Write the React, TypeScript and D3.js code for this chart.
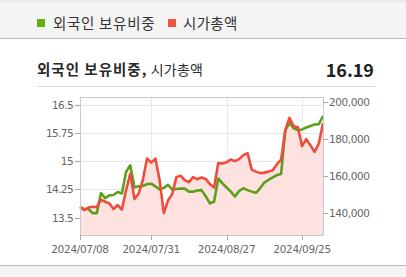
import React from "react";
import * as d3 from "d3";

const dates = [
  "2024/07/08","2024/07/09","2024/07/10","2024/07/11","2024/07/12","2024/07/15","2024/07/16","2024/07/17","2024/07/18","2024/07/19",
  "2024/07/22","2024/07/23","2024/07/24","2024/07/25","2024/07/26","2024/07/29","2024/07/30","2024/07/31",
  "2024/08/01","2024/08/02","2024/08/05","2024/08/06","2024/08/07","2024/08/08","2024/08/09","2024/08/12","2024/08/13","2024/08/14",
  "2024/08/16","2024/08/19","2024/08/20","2024/08/21","2024/08/22","2024/08/23","2024/08/26","2024/08/27","2024/08/28","2024/08/29","2024/08/30",
  "2024/09/02","2024/09/03","2024/09/04","2024/09/05","2024/09/06","2024/09/09","2024/09/10","2024/09/11","2024/09/12","2024/09/13",
  "2024/09/19","2024/09/20","2024/09/23","2024/09/24","2024/09/25","2024/09/26","2024/09/27","2024/09/30",
  "2024/10/02","2024/10/04",
];

const foreignRatio = [
  13.78,13.73,13.73,13.62,13.62,14.15,14.02,14.09,14.10,14.18,
  14.14,14.71,14.89,14.30,14.33,14.34,14.39,14.40,
  14.33,14.25,14.29,14.37,14.25,14.26,14.27,14.27,14.19,14.19,
  14.22,14.23,14.07,13.88,13.92,14.54,14.41,14.30,14.19,14.06,14.21,
  14.28,14.23,14.19,14.16,14.28,14.43,14.50,14.57,14.63,14.66,
  15.82,16.01,15.87,15.82,15.84,15.89,15.93,15.97,
  15.98,16.19,
];

const marketCap = [
  143550,141780,143120,143550,143390,147420,146240,145380,142320,144470,
  142050,152530,161400,147690,150650,157910,169570,167310,
  169460,157910,140170,146890,150380,159520,160330,157910,156830,159520,
  158440,159360,158550,155760,153870,167050,166880,167580,169030,168120,169200,
  171350,172420,163550,162480,161670,161940,162480,163280,166510,168930,
  184790,191510,186940,186400,176180,179950,176720,173120,
  177640,188550,
];

const leftTicks = [13.5, 14.25, 15, 15.75, 16.5];
const rightTicks = [140000, 160000, 180000, 200000];
const xTickDates = ["2024/07/08", "2024/07/31", "2024/08/27", "2024/09/25"];
const leftDomain = [13.04, 16.7];
const rightDomain = [128340, 202690];

const seriesNames = ["외국인 보유비중", "시가총액"];
const titleBold = "외국인 보유비중,";
const titleRest = " 시가총액";
const latestValue = "16.19";

const W = 406, H = 277;
const plot = { left: 80, right: 323, top: 97, bottom: 235 };
const GREEN = "#5c9f1c";
const RED = "#ee4d3d";
const FONT = "'Noto Sans CJK KR', 'Noto Sans', sans-serif";
const TICKFONT = "'DejaVu Sans', 'Noto Sans', sans-serif";

export default function App() {
  const x = d3.scalePoint<string>().domain(dates).range([plot.left, plot.right]);
  const yL = d3.scaleLinear().domain(leftDomain).range([plot.bottom, plot.top]);
  const yR = d3.scaleLinear().domain(rightDomain).range([plot.bottom, plot.top]);

  const greenLine = d3.line<number>().x((_, i) => x(dates[i])!).y((d) => yL(d));
  const redLine = d3.line<number>().x((_, i) => x(dates[i])!).y((d) => yR(d));
  const redArea = d3
    .area<number>()
    .x((_, i) => x(dates[i])!)
    .y0(plot.bottom)
    .y1((d) => yR(d));

  const fmt = d3.format(",");

  return (
    <div style={{ position: "fixed", left: 0, top: 0 }}>
      <svg width={W} height={H} style={{ display: "block" }}>
        <rect x={0} y={0} width={W} height={H} fill="#ffffff" />
        {/* top band */}
        <rect x={0} y={0} width={W} height={38} fill="#f4f4f4" />
        <rect x={0} y={0} width={W} height={2} fill="#e9e9e9" />
        <line x1={0} x2={W} y1={38.5} y2={38.5} stroke="#b9b9b9" />
        {/* legend */}
        <rect x={37} y={19} width={8} height={8} fill="#62b00c" />
        <text x={53} y={29} fontFamily={FONT} fontSize={14.5} fill="#333" letterSpacing={0.7}>{seriesNames[0]}</text>
        <rect x={168} y={19} width={8} height={8} fill="#f05444" />
        <text x={183} y={29} fontFamily={FONT} fontSize={14.5} fill="#333" letterSpacing={0.3}>{seriesNames[1]}</text>

        {/* title */}
        <text x={37} y={75} fontFamily={FONT} fill="#2a2a2a">
          <tspan fontWeight="bold" fontSize={14.5} letterSpacing={1}>{titleBold}</tspan>
          <tspan fontSize={14} letterSpacing={0.2}>{titleRest}</tspan>
        </text>
        <text x={374} y={77} textAnchor="end" fontFamily={FONT} fontSize={18} fontWeight="bold" fill="#222">{latestValue}</text>
        <line x1={37} x2={375} y1={86.5} y2={86.5} stroke="#dcdcdc" />

        {/* grid */}
        {leftTicks.map((t) => (
          <line key={"gl" + t} x1={plot.left} x2={plot.right} y1={Math.round(yL(t)) + 0.5} y2={Math.round(yL(t)) + 0.5} stroke="#e8e8e8" />
        ))}
        {xTickDates.map((d) => (
          <line key={"gx" + d} x1={Math.round(x(d)!) + 0.5} x2={Math.round(x(d)!) + 0.5} y1={plot.top} y2={plot.bottom} stroke="#e8e8e8" />
        ))}

        {/* area + lines */}
        <path d={redArea(marketCap)!} fill="#fde2df" />
        <path d={greenLine(foreignRatio)!} fill="none" stroke={GREEN} strokeWidth={2.6} strokeLinejoin="round" />
        <path d={redLine(marketCap)!} fill="none" stroke={RED} strokeWidth={2.6} strokeLinejoin="round" />

        {/* frame */}
        <rect x={plot.left + 0.5} y={plot.top + 0.5} width={plot.right - plot.left} height={plot.bottom - plot.top} fill="none" stroke="#c9c9c9" />

        {/* left axis */}
        {leftTicks.map((t) => (
          <g key={"lt" + t}>
            <line x1={plot.left - 5} x2={plot.left} y1={Math.round(yL(t)) + 0.5} y2={Math.round(yL(t)) + 0.5} stroke="#aaa" />
            <text x={plot.left - 7} y={yL(t) + 4} textAnchor="end" fontFamily={TICKFONT} fontSize={10.5} fill="#666" letterSpacing={-0.6}>{t}</text>
          </g>
        ))}
        {/* right axis */}
        {rightTicks.map((t) => (
          <g key={"rt" + t}>
            <line x1={plot.right} x2={plot.right + 5} y1={Math.round(yR(t)) + 0.5} y2={Math.round(yR(t)) + 0.5} stroke="#aaa" />
            <text x={plot.right + 6} y={yR(t) + 4} fontFamily={TICKFONT} fontSize={10.5} fill="#666" letterSpacing={-0.4}>{fmt(t)}</text>
          </g>
        ))}
        {/* x axis */}
        {xTickDates.map((d) => (
          <g key={"xt" + d}>
            <line x1={Math.round(x(d)!) + 0.5} x2={Math.round(x(d)!) + 0.5} y1={plot.bottom} y2={plot.bottom + 5} stroke="#aaa" />
            <text x={x(d)!} y={253} textAnchor="middle" fontFamily={TICKFONT} fontSize={10.5} fill="#666" letterSpacing={-0.3}>{d}</text>
          </g>
        ))}

        {/* bottom band */}
        <rect x={0} y={266} width={W} height={H - 266} fill="#f4f4f4" />
        <line x1={0} x2={W} y1={265.5} y2={265.5} stroke="#b9b9b9" />
      </svg>
    </div>
  );
}
